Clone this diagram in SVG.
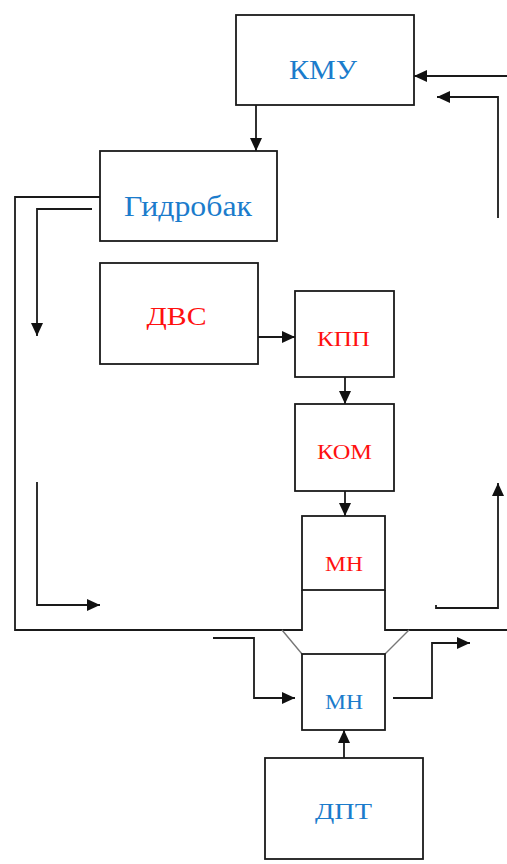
<svg xmlns="http://www.w3.org/2000/svg" width="507" height="864" viewBox="0 0 507 864">
<style>
.box{fill:#fff;stroke:#1a1a1a;stroke-width:1.8}
.ln{fill:none;stroke:#1a1a1a;stroke-width:1.8}
.dg{fill:none;stroke:#777;stroke-width:1.4}
.t{font-family:"Liberation Serif","Times New Roman",serif;text-anchor:middle}
.b{fill:#1b7ccc}
.r{fill:#ff1010}
</style>
<defs>
<marker id="ah" markerUnits="userSpaceOnUse" markerWidth="14" markerHeight="13" refX="13" refY="6" orient="auto">
<path d="M0,0 L13,6 L0,12 z" fill="#111"/>
</marker>
</defs>
<rect width="507" height="864" fill="#fff"/>
<g id="connectors">
<path class="ln" d="M256,105 V151" marker-end="url(#ah)"/>
<path class="ln" d="M507,76 H414" marker-end="url(#ah)"/>
<path class="ln" d="M498,218 V97 H437" marker-end="url(#ah)"/>
<path class="ln" d="M100,197 H15 V630 H302 V590"/>
<path class="ln" d="M385,590 V630 H507"/>
<path class="dg" d="M282,630 L302,654 M409,630 L385,654"/>
<path class="ln" d="M92,209 H37 V336" marker-end="url(#ah)"/>
<path class="ln" d="M37,482 V605 H100" marker-end="url(#ah)"/>
<path class="ln" d="M258,337 H295" marker-end="url(#ah)"/>
<path class="ln" d="M345,377 V404" marker-end="url(#ah)"/>
<path class="ln" d="M345,491 V516" marker-end="url(#ah)"/>
<path class="ln" d="M213,638 H254 V698 H295" marker-end="url(#ah)"/>
<path class="ln" d="M393,698 H432 V643 H470" marker-end="url(#ah)"/>
<path class="ln" d="M436,605 V608 H498 V483" marker-end="url(#ah)"/>
<path class="ln" d="M344,758 V730" marker-end="url(#ah)"/>
</g>
<g id="kmu">
<rect class="box" x="236" y="15" width="178" height="90"/>
<text class="t b" x="323" y="79" font-size="28" textLength="68" lengthAdjust="spacingAndGlyphs">КМУ</text>
</g>
<g id="gidrobak">
<rect class="box" x="100" y="151" width="177" height="90"/>
<text class="t b" x="188" y="216" font-size="29" textLength="128" lengthAdjust="spacingAndGlyphs">Гидробак</text>
</g>
<g id="dvs">
<rect class="box" x="100" y="263" width="158" height="101"/>
<text class="t r" x="176.5" y="325" font-size="26" textLength="60" lengthAdjust="spacingAndGlyphs">ДВС</text>
</g>
<g id="kpp">
<rect class="box" x="295" y="291" width="99" height="86"/>
<text class="t r" x="343.5" y="346" font-size="22" textLength="53" lengthAdjust="spacingAndGlyphs">КПП</text>
</g>
<g id="kom">
<rect class="box" x="295" y="404" width="99" height="87"/>
<text class="t r" x="344.5" y="459" font-size="22" textLength="55" lengthAdjust="spacingAndGlyphs">КОМ</text>
</g>
<g id="mn-upper">
<rect class="box" x="302" y="516" width="83" height="74"/>
<text class="t r" x="344" y="571" font-size="22" textLength="38" lengthAdjust="spacingAndGlyphs">МН</text>
</g>
<g id="mn-lower">
<rect class="box" x="302" y="654" width="83" height="76"/>
<text class="t b" x="344" y="709" font-size="22" textLength="38" lengthAdjust="spacingAndGlyphs">МН</text>
</g>
<g id="dpt">
<rect class="box" x="265" y="758" width="158" height="101"/>
<text class="t b" x="343.5" y="819" font-size="24" textLength="57" lengthAdjust="spacingAndGlyphs">ДПТ</text>
</g>
</svg>
